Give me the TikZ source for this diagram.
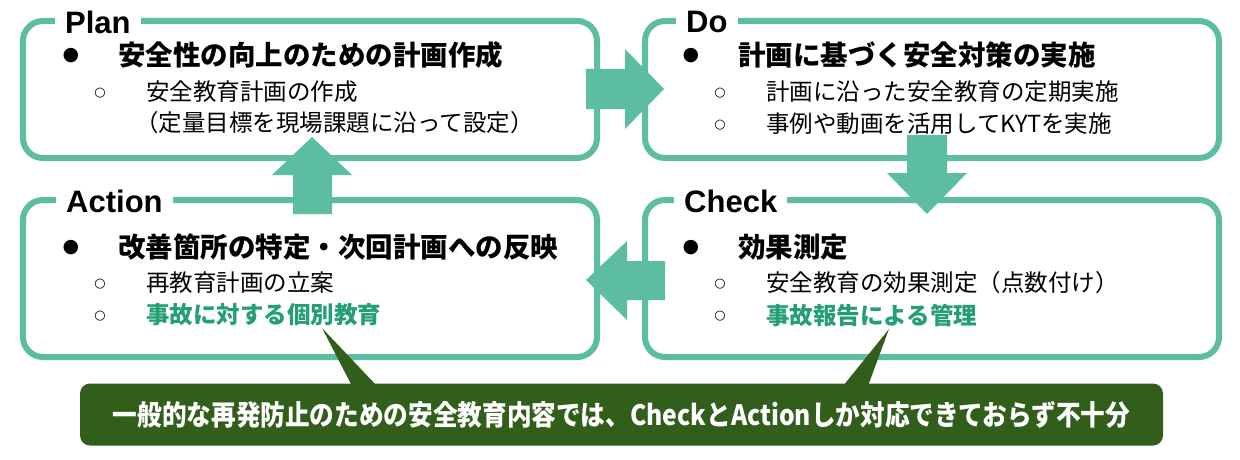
\documentclass[tikz,border=0pt]{standalone}
\usepackage{fontspec}
\usepackage{graphicx}
\newfontfamily\jp{Noto Sans CJK JP}
\newfontfamily\lat{Liberation Sans}
\newfontfamily\sym{DejaVu Sans}
\definecolor{boxc}{RGB}{92,189,163}
\definecolor{gtext}{RGB}{36,158,118}
\definecolor{dgreen}{RGB}{49,94,26}
\begin{document}
\begin{tikzpicture}[x=1pt,y=-1pt,
 box/.style={draw=boxc,line width=6pt,rounded corners=20pt,minimum width=574pt,inner sep=0pt,fill=white},
 lbl/.style={fill=white,anchor=west,inner xsep=10pt,inner ysep=0pt,font=\lat\fontsize{31}{31}\selectfont\bfseries},
 head/.style={anchor=west,inner sep=0pt,font=\jp\fontsize{27.5}{28}\selectfont\bfseries},
 sub/.style={anchor=west,inner sep=0pt,font=\jp\fontsize{23.5}{24}\selectfont},
 subg/.style={anchor=west,inner sep=0pt,text=gtext,font=\jp\fontsize{23.5}{24}\selectfont\bfseries},
 bul/.style={inner sep=0pt,font=\sym\fontsize{19}{19}\selectfont},
 cir/.style={inner sep=0pt,font=\sym\fontsize{13}{13}\selectfont},
 blk/.style={fill=boxc,draw=none},
 call/.style={fill=dgreen,draw=none}
]
\useasboundingbox (0,0) rectangle (1240,460);
% boxes
\node[box,minimum height=137pt] (plan) at (310,89.5) {};
\node[box,minimum height=137pt] (do) at (932,89.5) {};
\node[box,minimum height=157pt] (act) at (310,278.5) {};
\node[box,minimum height=157pt] (chk) at (932,278.5) {};
% labels
\node[lbl] (lplan) at (55,22) {Plan};
\node[lbl] (ldo) at (676,22) {Do};
\node[lbl] (lact) at (56,201) {Action};
\node[lbl] (lchk) at (674,201) {Check};
% block arrows
\fill[blk] (586,69) -- (625,69) -- (625,49) -- (664,89) -- (625,129) -- (625,109) -- (586,109) -- cycle;
\fill[blk] (907,135) -- (947,135) -- (947,173) -- (967,173) -- (927,214) -- (887,173) -- (907,173) -- cycle;
\fill[blk] (293,214) -- (332,214) -- (332,175) -- (352,175) -- (312,137) -- (272,175) -- (293,175) -- cycle;
\fill[blk] (665,261) -- (627,261) -- (627,241) -- (586,280) -- (627,320) -- (627,300) -- (665,300) -- cycle;
% Plan text
\node[bul] (pb) at (71,55.5) {●};
\node[head] (ph) at (118,55) {安全性の向上のための計画作成};
\node[cir] (pc1) at (100,93) {○};
\node[sub] (ps1) at (146,92) {安全教育計画の作成};
\node[sub] (ps2) at (135,123) {（定量目標を現場課題に沿って設定）};
% Do text
\node[bul] (db) at (691,55.5) {●};
\node[head] (dh) at (738,55) {計画に基づく安全対策の実施};
\node[cir] (dc1) at (720,93) {○};
\node[sub] (ds1) at (766,92) {計画に沿った安全教育の定期実施};
\node[cir] (dc2) at (720,125) {○};
\node[sub] (ds2) at (766,124) {事例や動画を活用してKYTを実施};
% Action text
\node[bul] (ab) at (71,247.5) {●};
\node[head] (ah) at (118,247) {改善箇所の特定・次回計画への反映};
\node[cir] (ac1) at (100,284) {○};
\node[sub] (as1) at (146,283) {再教育計画の立案};
\node[cir] (ac2) at (100,316) {○};
\node[subg] (as2) at (146,315) {事故に対する個別教育};
% Check text
\node[bul] (cb) at (691,247.5) {●};
\node[head] (ch) at (738,247) {効果測定};
\node[cir] (cc1) at (720,284) {○};
\node[sub] (cs1) at (766,283) {安全教育の効果測定（点数付け）};
\node[cir] (cc2) at (720,316) {○};
\node[subg] (cs2) at (766,315) {事故報告による管理};
% callout
\coordinate (tipL) at (322,328);
\coordinate (tipR) at (889,329);
\fill[call] (tipL) -- (377,386) -- (352,386) -- cycle;
\fill[call] (tipR) -- (868,386) -- (843,386) -- cycle;
\node[call,rounded corners=10pt,minimum width=1083pt,minimum height=62pt,inner sep=0pt,text=white,font=\jp\fontsize{28}{28}\selectfont\bfseries] (note) at (621.5,414.5) {\scalebox{0.88}[1]{一般的な再発防止のための安全教育内容では、CheckとActionしか対応できておらず不十分}};
\end{tikzpicture}
\end{document}
